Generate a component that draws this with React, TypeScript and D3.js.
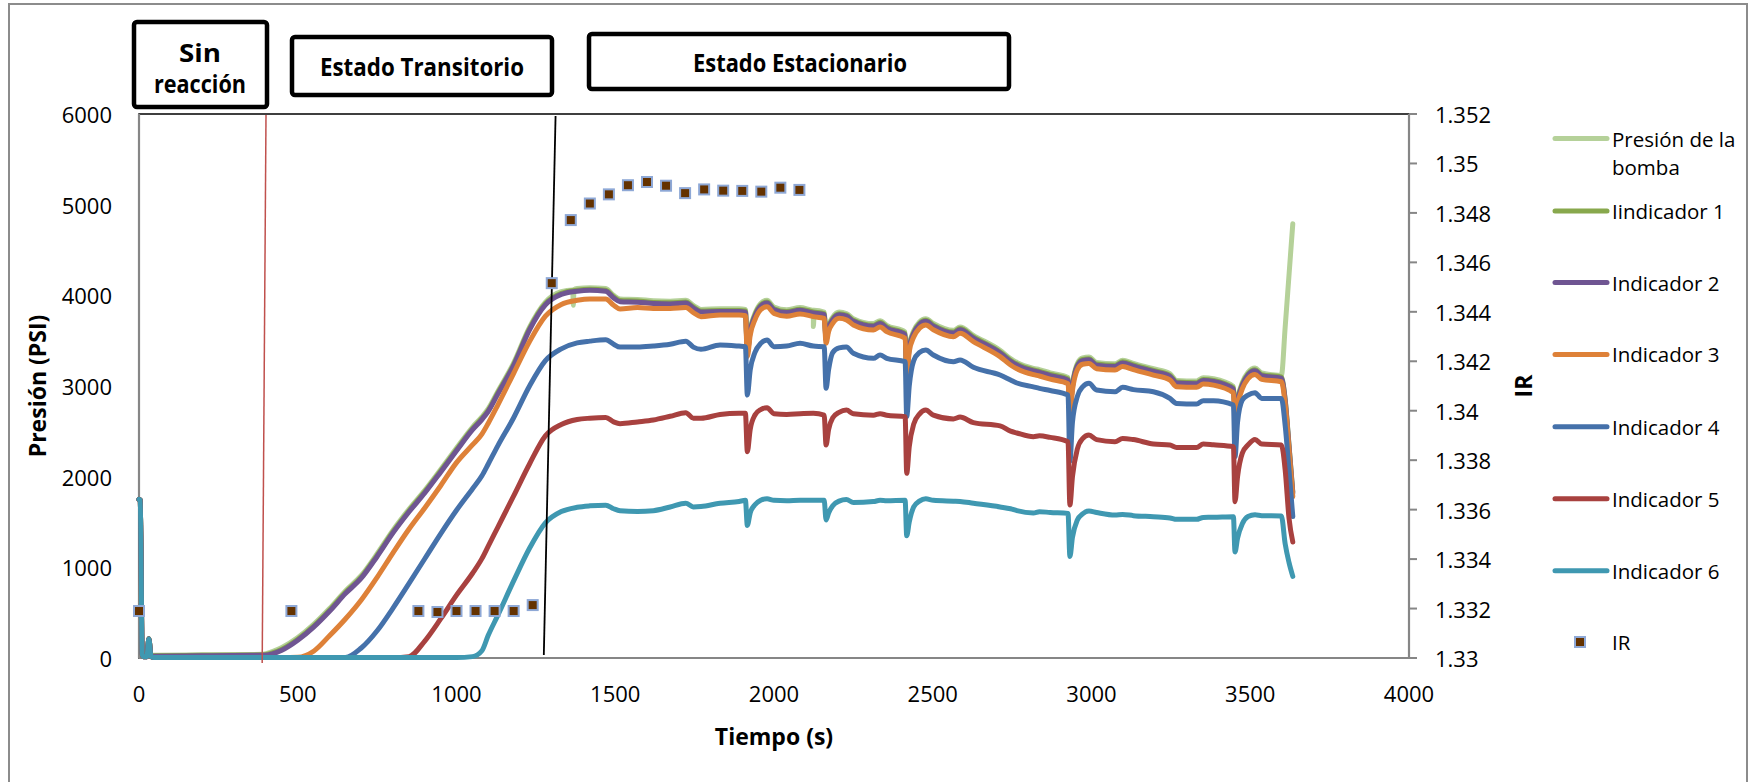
import React from 'react';
import * as d3 from 'd3';

const W = 1754;
const H = 782;

// ---------- axes ----------
const xTicks = [0, 500, 1000, 1500, 2000, 2500, 3000, 3500, 4000];
const yLeftTicks = [0, 1000, 2000, 3000, 4000, 5000, 6000];
const yRightTicks = [1.33, 1.332, 1.334, 1.336, 1.338, 1.34, 1.342, 1.344, 1.346, 1.348, 1.35, 1.352];
const yRightLabels = ['1.33', '1.332', '1.334', '1.336', '1.338', '1.34', '1.342', '1.344', '1.346', '1.348', '1.35', '1.352'];

// ---------- data (time in s, pressure in PSI) ----------
const times = [
  0, 4, 10, 14, 25, 31, 38, 45, 200, 390,
  420, 450, 500, 550, 600, 650, 700, 750, 800, 850,
  900, 950, 1000, 1050, 1080, 1100, 1130, 1180, 1230, 1280,
  1330, 1380, 1420, 1470, 1495, 1515, 1570, 1620, 1673, 1722,
  1746, 1770, 1830, 1890, 1910, 1916, 1925, 1940, 1958, 1978,
  2000, 2040, 2082, 2124, 2158, 2164, 2172, 2185, 2205, 2228,
  2250, 2313, 2334, 2355, 2413, 2418, 2426, 2440, 2458, 2478,
  2502, 2565, 2586, 2628, 2712, 2745, 2765, 2817, 2836, 2870,
  2926, 2932, 2940, 2955, 2972, 2992, 3016, 3074, 3098, 3132,
  3195, 3247, 3268, 3331, 3352, 3384, 3447, 3452, 3460, 3475,
  3493, 3515, 3536, 3598, 3610, 3622, 3634,
];

const presionBomba = [
  1750, 1740, 40, 20, 20, 215, 30, 30, 35, 40,
  70, 115, 225, 370, 545, 740, 910, 1150, 1410, 1640,
  1850, 2080, 2315, 2545, 2660, 2750, 2940, 3255, 3650, 3925,
  4040, 4075, 4085, 4075, 4000, 3960, 3955, 3940, 3935, 3945,
  3890, 3845, 3852, 3852, 3845, 3400, 3630, 3800, 3910, 3945,
  3870, 3840, 3865, 3835, 3816, 3540, 3670, 3760, 3816, 3800,
  3743, 3688, 3720, 3669, 3596, 3170, 3450, 3610, 3706, 3743,
  3690, 3614, 3651, 3559, 3394, 3302, 3260, 3195, 3180, 3145,
  3095, 2770, 3020, 3246, 3310, 3319, 3260, 3246, 3285, 3250,
  3190, 3136, 3062, 3055, 3091, 3080, 2995, 2730, 2870, 3040,
  3150, 3198, 3143, 3117, 3650, 4220, 4790,
];
// isolated pump-pressure drops
const presionSpikeT = [1366, 1368, 1370, 2121, 2124, 2127];
const presionSpikeV = [4060, 3890, 4062, 3836, 3655, 3835];

const indicador1 = [
  1750, 1740, 40, 18, 18, 212, 25, 25, 30, 35,
  57, 97, 207, 352, 527, 722, 892, 1132, 1392, 1622,
  1832, 2062, 2297, 2527, 2642, 2732, 2922, 3237, 3632, 3907,
  4022, 4057, 4067, 4057, 3983, 3942, 3937, 3922, 3917, 3927,
  3872, 3827, 3834, 3834, 3827, 3382, 3612, 3782, 3892, 3927,
  3852, 3822, 3847, 3817, 3798, 3522, 3652, 3742, 3798, 3782,
  3725, 3670, 3702, 3651, 3578, 3152, 3432, 3592, 3688, 3725,
  3672, 3596, 3633, 3541, 3376, 3284, 3242, 3177, 3162, 3127,
  3077, 2752, 3002, 3228, 3292, 3301, 3242, 3228, 3267, 3232,
  3172, 3118, 3044, 3037, 3073, 3062, 2977, 2712, 2852, 3022,
  3132, 3180, 3125, 3099, 2852, 2352, 1832,
];

const indicador2 = [
  1750, 1740, 40, 15, 15, 210, 20, 20, 25, 30,
  45, 85, 195, 340, 515, 710, 880, 1120, 1380, 1610,
  1820, 2050, 2285, 2515, 2630, 2720, 2910, 3225, 3620, 3895,
  4010, 4045, 4055, 4045, 3971, 3930, 3925, 3910, 3905, 3915,
  3860, 3815, 3822, 3822, 3815, 3370, 3600, 3770, 3880, 3915,
  3840, 3810, 3835, 3805, 3786, 3510, 3640, 3730, 3786, 3770,
  3713, 3658, 3690, 3639, 3566, 3140, 3420, 3580, 3676, 3713,
  3660, 3584, 3621, 3529, 3364, 3272, 3230, 3165, 3150, 3115,
  3065, 2740, 2990, 3216, 3280, 3289, 3230, 3216, 3255, 3220,
  3160, 3106, 3032, 3025, 3061, 3050, 2965, 2700, 2840, 3010,
  3120, 3168, 3113, 3087, 2840, 2340, 1820,
];

const indicador3 = [
  1750, 1740, 40, 15, 15, 210, 15, 5, 5, 5,
  5, 5, 8, 75, 245, 430, 640, 890, 1160, 1420,
  1655, 1900, 2155, 2350, 2470, 2590, 2790, 3140, 3490, 3770,
  3900, 3945, 3960, 3960, 3890, 3849, 3865, 3855, 3855, 3865,
  3810, 3765, 3783, 3783, 3775, 3324, 3560, 3730, 3840, 3875,
  3800, 3770, 3795, 3765, 3746, 3471, 3600, 3690, 3746, 3730,
  3673, 3618, 3650, 3599, 3526, 3100, 3380, 3540, 3636, 3673,
  3620, 3544, 3581, 3489, 3324, 3232, 3190, 3125, 3110, 3075,
  3025, 2698, 2950, 3176, 3240, 3249, 3190, 3176, 3215, 3180,
  3120, 3066, 2992, 2985, 3021, 3010, 2925, 2661, 2800, 2970,
  3080, 3128, 3073, 3047, 2800, 2300, 1780,
];

const indicador4 = [
  1750, 1740, 40, 15, 15, 210, 15, 5, 5, 5,
  5, 5, 5, 5, 5, 5, 110, 300, 550, 820,
  1095, 1370, 1630, 1865, 2010, 2140, 2340, 2650, 3000, 3280,
  3410, 3475, 3495, 3510, 3461, 3429, 3429, 3441, 3461, 3494,
  3429, 3405, 3452, 3440, 3434, 2900, 3176, 3370, 3470, 3507,
  3434, 3440, 3471, 3440, 3434, 2974, 3180, 3370, 3420, 3430,
  3360, 3305, 3342, 3305, 3268, 2662, 3000, 3280, 3370, 3397,
  3342, 3268, 3287, 3206, 3121, 3066, 3033, 2990, 2974, 2950,
  2900, 2170, 2600, 2880, 2990, 3029, 2955, 2937, 2985, 2960,
  2937, 2863, 2808, 2801, 2838, 2838, 2790, 2220, 2600, 2845,
  2900, 2926, 2863, 2863, 2564, 2074, 1560,
];

const indicador5 = [
  1750, 1740, 40, 15, 15, 210, 15, 5, 5, 5,
  5, 5, 5, 5, 5, 5, 5, 5, 5, 15,
  187, 431, 693, 932, 1096, 1234, 1442, 1788, 2140, 2450,
  2575, 2630, 2645, 2653, 2604, 2584, 2604, 2625, 2666, 2706,
  2645, 2645, 2686, 2700, 2699, 2276, 2520, 2680, 2740, 2760,
  2694, 2686, 2694, 2700, 2680, 2349, 2520, 2650, 2710, 2735,
  2694, 2678, 2694, 2678, 2662, 2037, 2330, 2580, 2690, 2735,
  2678, 2637, 2657, 2596, 2560, 2502, 2482, 2441, 2450, 2433,
  2386, 1687, 2000, 2300, 2420, 2459, 2409, 2386, 2422, 2409,
  2360, 2349, 2323, 2323, 2360, 2351, 2330, 1724, 2000, 2260,
  2350, 2411, 2360, 2349, 2074, 1544, 1280,
];

const indicador6 = [
  1750, 1740, 40, 15, 15, 210, 15, 5, 5, 5,
  5, 5, 5, 5, 5, 5, 5, 5, 5, 5,
  5, 5, 5, 15, 80, 250, 470, 850, 1210, 1490,
  1615, 1662, 1678, 1686, 1646, 1625, 1617, 1625, 1666, 1707,
  1666, 1670, 1707, 1727, 1739, 1462, 1600, 1690, 1739, 1756,
  1739, 1735, 1739, 1739, 1739, 1523, 1600, 1680, 1730, 1748,
  1715, 1725, 1739, 1735, 1739, 1348, 1500, 1666, 1730, 1756,
  1739, 1730, 1727, 1707, 1666, 1646, 1625, 1600, 1614, 1605,
  1595, 1120, 1330, 1520, 1590, 1621, 1605, 1577, 1584, 1570,
  1558, 1545, 1529, 1529, 1551, 1552, 1558, 1170, 1320, 1480,
  1560, 1580, 1570, 1566, 1258, 1054, 900,
];

// IR (secondary axis)
const irTimes = [0, 480, 880, 940, 1000, 1060, 1120, 1180, 1240, 1300, 1360, 1420, 1480, 1540, 1600, 1660, 1720, 1780, 1840, 1900, 1960, 2020, 2080];
const irValues = [1.3319, 1.3319, 1.3319, 1.33186, 1.3319, 1.3319, 1.3319, 1.3319, 1.33214, 1.34516, 1.34771, 1.34838, 1.34875, 1.34912, 1.34925, 1.3491, 1.3488, 1.34895, 1.3489, 1.34889, 1.34886, 1.34902, 1.34893];

const seriesNames = ['Presión de la bomba', 'Iindicador 1', 'Indicador 2', 'Indicador 3', 'Indicador 4', 'Indicador 5', 'Indicador 6'];
const seriesColors = ['#b5d199', '#88a84d', '#6f5592', '#de8138', '#4571aa', '#a8413f', '#3f98b1'];
const seriesValues = [presionBomba, indicador1, indicador2, indicador3, indicador4, indicador5, indicador6];

// phase annotations (time at top, time at bottom)
const redLineT = [400, 388];
const blackLineT = [1312, 1275];

const FONT = "'Open Sans', 'DejaVu Sans', sans-serif";

export default function App() {
  const x = d3.scaleLinear().domain([0, 4000]).range([139, 1409]);
  const yL = d3.scaleLinear().domain([0, 6000]).range([658, 114]);
  const yR = d3.scaleLinear().domain([1.33, 1.352]).range([658, 114]);

  const line = d3
    .line<[number, number]>()
    .x((d) => x(d[0]))
    .y((d) => yL(d[1]))
    .curve(d3.curveMonotoneX);

  const seriesData: [number, number][][] = seriesValues.map((vals, si) => {
    const pts: [number, number][] = times.map((t, i) => [t, vals[i]] as [number, number]);
    if (si === 0) {
      presionSpikeT.forEach((t, i) => pts.push([t, presionSpikeV[i]]));
      pts.sort((a, b) => a[0] - b[0]);
    }
    return pts;
  });

  const axisGray = '#868686';
  const legendY = [138.6, 211, 282.5, 354.4, 426.8, 498.7, 570.7];

  return (
    <svg width={W} height={H} style={{ position: 'absolute', left: 0, top: 0, background: '#fff' }}>
      <rect x={0} y={0} width={W} height={H} fill="#fff" />
      <rect x={9} y={4} width={1738} height={800} fill="none" stroke="#8c8c8c" strokeWidth={2} />

      {/* plot frame */}
      <rect x={x(0)} y={yL(6000)} width={x(4000) - x(0)} height={yL(0) - yL(6000)} fill="none" stroke="#000" strokeWidth={1.5} />
      <line x1={x(0)} x2={x(0)} y1={yL(6000)} y2={yL(0)} stroke={axisGray} strokeWidth={2.2} />
      <line x1={x(0)} x2={x(4000)} y1={yL(0)} y2={yL(0)} stroke={axisGray} strokeWidth={2.2} />
      <line x1={x(4000)} x2={x(4000)} y1={yR(1.352)} y2={yR(1.33)} stroke={axisGray} strokeWidth={2.2} />
      {yRightTicks.map((v) => (
        <line key={'rt' + v} x1={x(4000)} x2={x(4000) + 8} y1={yR(v)} y2={yR(v)} stroke={axisGray} strokeWidth={2} />
      ))}

      {/* series */}
      {seriesData.map((pts, i) => (
        <path
          key={seriesNames[i]}
          d={line(pts) || ''}
          fill="none"
          stroke={seriesColors[i]}
          strokeWidth={5}
          strokeLinejoin="round"
          strokeLinecap="round"
        />
      ))}

      {/* phase lines */}
      <line x1={x(redLineT[0])} x2={x(redLineT[1])} y1={yL(6000) + 1} y2={yL(0) + 5} stroke="#c0504d" strokeWidth={1.5} />
      <line x1={x(blackLineT[0])} x2={x(blackLineT[1])} y1={yL(6000) + 2} y2={yL(0) - 3} stroke="#000" strokeWidth={1.8} />

      {/* IR markers */}
      {irTimes.map((t, i) => (
        <rect
          key={'ir' + t}
          x={x(t) - 5}
          y={yR(irValues[i]) - 5}
          width={10}
          height={10}
          fill="#643200"
          stroke="#8ea8d6"
          strokeWidth={2}
        />
      ))}

      {/* tick labels */}
      {yLeftTicks.map((v) => (
        <text key={'yl' + v} x={112} y={yL(v)} textAnchor="end" dominantBaseline="central" fontFamily={FONT} fontSize={22} fill="#000">
          {v}
        </text>
      ))}
      {xTicks.map((v) => (
        <text key={'xt' + v} x={x(v)} y={693} textAnchor="middle" dominantBaseline="central" fontFamily={FONT} fontSize={22} fill="#000">
          {v}
        </text>
      ))}
      {yRightTicks.map((v, i) => (
        <text key={'yr' + v} x={1435} y={yR(v)} textAnchor="start" dominantBaseline="central" fontFamily={FONT} fontSize={22} fill="#000">
          {yRightLabels[i]}
        </text>
      ))}

      {/* axis titles */}
      <text transform="translate(37,386) rotate(-90)" textAnchor="middle" dominantBaseline="central" fontFamily={FONT} fontWeight="bold" fontSize={23}>
        Presión (PSI)
      </text>
      <text transform="translate(1523,386) rotate(-90)" textAnchor="middle" dominantBaseline="central" fontFamily={FONT} fontWeight="bold" fontSize={23}>
        IR
      </text>
      <text x={774} y={736} textAnchor="middle" dominantBaseline="central" fontFamily={FONT} fontWeight="bold" fontSize={23}>
        Tiempo (s)
      </text>

      {/* legend */}
      {seriesNames.map((name, i) => (
        <g key={'lg' + name}>
          <line x1={1555} x2={1607} y1={legendY[i]} y2={legendY[i]} stroke={seriesColors[i]} strokeWidth={5} strokeLinecap="round" />
          {i === 0 ? (
            <>
              <text x={1612} y={legendY[i]} dominantBaseline="central" fontFamily={FONT} fontSize={20.5}>Presión de la</text>
              <text x={1612} y={legendY[i] + 28} dominantBaseline="central" fontFamily={FONT} fontSize={20.5}>bomba</text>
            </>
          ) : (
            <text x={1612} y={legendY[i]} dominantBaseline="central" fontFamily={FONT} fontSize={20.5}>{name}</text>
          )}
        </g>
      ))}
      <rect x={1575} y={637} width={10} height={10} fill="#643200" stroke="#8ea8d6" strokeWidth={2} />
      <text x={1612} y={642} dominantBaseline="central" fontFamily={FONT} fontSize={20.5}>IR</text>

      {/* phase boxes */}
      <rect x={134} y={22} width={133} height={85} rx={3} fill="#fff" stroke="#000" strokeWidth={4.5} />
      <text x={200} y={52} textAnchor="middle" dominantBaseline="central" fontFamily={FONT} fontWeight="bold" fontSize={25} textLength={42} lengthAdjust="spacingAndGlyphs">Sin</text>
      <text x={200} y={83} textAnchor="middle" dominantBaseline="central" fontFamily={FONT} fontWeight="bold" fontSize={25} textLength={92} lengthAdjust="spacingAndGlyphs">reacción</text>

      <rect x={292} y={37} width={260} height={58} rx={3} fill="#fff" stroke="#000" strokeWidth={4.5} />
      <text x={422} y={66} textAnchor="middle" dominantBaseline="central" fontFamily={FONT} fontWeight="bold" fontSize={25} textLength={204} lengthAdjust="spacingAndGlyphs">Estado Transitorio</text>

      <rect x={589} y={34} width={420} height={55} rx={3} fill="#fff" stroke="#000" strokeWidth={4.5} />
      <text x={800} y={62} textAnchor="middle" dominantBaseline="central" fontFamily={FONT} fontWeight="bold" fontSize={25} textLength={214} lengthAdjust="spacingAndGlyphs">Estado Estacionario</text>
    </svg>
  );
}
